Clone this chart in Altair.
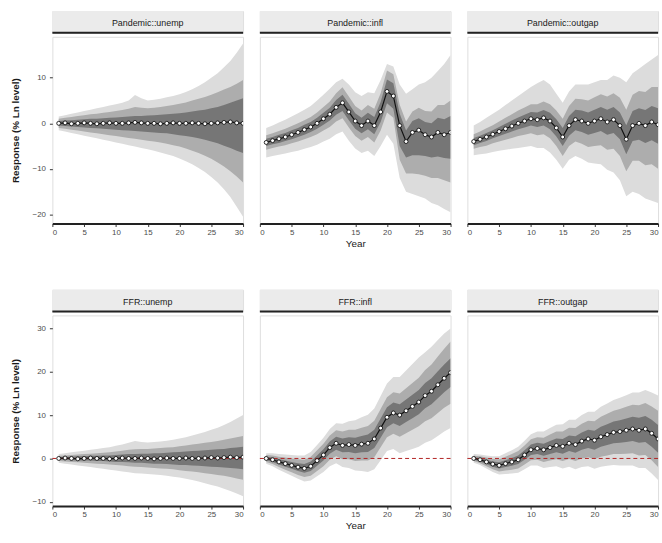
import altair as alt
import pandas as pd

# ---------------- data ----------------
horizon = list(range(1, 31))
panel_names = ["Pandemic::unemp", "Pandemic::infl", "Pandemic::outgap",
               "FFR::unemp", "FFR::infl", "FFR::outgap"]
x_ticks = [0, 5, 10, 15, 20, 25, 30]
top_y_ticks = [-20, -10, 0, 10]
bottom_y_ticks = [-10, 0, 10, 20, 30]
zero_ref = [0]

# Pandemic::unemp
pu_med = [0.0,0.1,-0.1,0.0,0.1,0.0,-0.1,0.0,0.1,0.0,0.0,0.1,0.2,0.1,0.0,0.0,-0.1,0.0,0.1,0.0,0.0,0.1,0.0,-0.1,0.0,0.1,0.2,0.3,0.1,0.0]
pu_hi1 = [0.5,0.6,0.7,0.8,0.9,1.0,1.0,1.1,1.2,1.3,1.4,1.5,1.6,1.6,1.7,1.8,1.9,2.0,2.1,2.2,2.4,2.6,2.8,3.0,3.3,3.6,4.0,4.5,5.0,5.5]
pu_lo1 = [-0.5,-0.6,-0.7,-0.8,-0.9,-1.0,-1.1,-1.2,-1.3,-1.4,-1.5,-1.6,-1.7,-1.8,-1.9,-2.0,-2.1,-2.2,-2.4,-2.6,-2.8,-3.0,-3.3,-3.6,-4.0,-4.4,-4.9,-5.4,-6.0,-6.5]
pu_hi2 = [1.0,1.2,1.4,1.6,1.8,2.0,2.1,2.3,2.5,2.7,2.9,3.2,3.6,3.4,3.3,3.4,3.6,3.8,4.0,4.3,4.6,5.0,5.4,5.8,6.3,6.8,7.4,8.0,8.7,9.5]
pu_lo2 = [-1.0,-1.2,-1.4,-1.6,-1.8,-2.0,-2.2,-2.4,-2.6,-2.8,-3.0,-3.2,-3.4,-3.6,-3.8,-4.0,-4.2,-4.5,-4.8,-5.1,-5.5,-6.0,-6.5,-7.1,-7.8,-8.6,-9.5,-10.5,-11.7,-13.0]
pu_hi3 = [1.5,1.8,2.1,2.4,2.7,3.0,3.3,3.6,3.9,4.2,4.5,5.0,6.2,5.5,5.0,5.2,5.4,5.7,6.0,6.4,6.9,7.5,8.2,9.0,10.0,11.0,12.3,13.7,15.5,17.5]
pu_lo3 = [-1.5,-1.8,-2.1,-2.4,-2.7,-3.0,-3.3,-3.6,-3.9,-4.2,-4.5,-4.8,-5.1,-5.4,-5.7,-6.0,-6.4,-6.8,-7.2,-7.7,-8.3,-9.0,-9.8,-10.7,-11.8,-13.0,-14.5,-16.2,-18.3,-20.5]

# Pandemic::infl
pi_med = [-4.2,-3.8,-3.4,-3.0,-2.5,-2.0,-1.4,-0.8,0.0,1.0,2.0,3.5,4.5,2.5,0.5,-0.5,0.5,-0.5,2.5,7.0,6.0,-0.5,-4.0,-2.0,-1.5,-2.5,-3.0,-2.0,-2.5,-2.0]
pi_hi1 = [-3.4,-3.0,-2.5,-2.1,-1.5,-1.0,-0.3,0.3,1.2,2.3,3.4,5.1,6.3,4.3,2.2,1.2,2.3,1.4,4.7,9.6,8.8,2.1,-1.6,0.5,1.1,0.3,0.0,1.2,0.9,1.6]
pi_lo1 = [-5.0,-4.6,-4.3,-3.9,-3.5,-3.0,-2.5,-1.9,-1.2,-0.3,0.6,1.9,2.7,0.7,-1.2,-2.2,-1.3,-2.4,0.3,4.4,3.2,-5.0,-7.5,-7.0,-7.0,-7.2,-7.5,-7.3,-7.6,-7.8]
pi_hi2 = [-2.6,-2.2,-1.7,-1.2,-0.6,0.0,0.7,1.4,2.4,3.6,4.8,6.6,7.9,5.9,3.8,2.8,4.0,3.2,6.6,11.6,10.8,4.1,0.4,2.6,3.4,2.7,2.6,4.0,4.0,5.0]
pi_lo2 = [-5.8,-5.4,-5.1,-4.8,-4.4,-4.0,-3.5,-3.0,-2.4,-1.6,-0.8,0.4,1.1,-0.9,-2.8,-3.8,-3.0,-4.2,-1.6,2.4,1.2,-8.0,-11.0,-11.0,-11.2,-11.5,-12.0,-12.0,-12.5,-13.0]
pi_hi3 = [-1.0,-0.5,0.2,0.8,1.5,2.2,3.0,3.8,5.0,6.3,7.6,9.0,9.8,8.5,6.8,6.0,6.8,6.6,9.5,13.0,12.5,8.5,6.5,7.5,8.5,9.0,10.0,11.5,13.0,15.0]
pi_lo3 = [-7.5,-7.2,-6.9,-6.6,-6.3,-6.0,-5.6,-5.2,-4.7,-4.0,-3.4,-2.4,-1.8,-3.8,-5.5,-6.5,-6.0,-7.2,-5.0,-2.5,-4.5,-12.0,-15.0,-15.5,-16.0,-16.5,-17.5,-18.0,-18.8,-19.5]

# Pandemic::outgap
po_med = [-4.0,-3.5,-3.0,-2.4,-1.8,-1.2,-0.6,0.0,0.5,1.0,0.8,1.2,0.5,-1.0,-3.0,-0.5,0.8,0.5,0.0,0.5,1.0,0.3,0.8,-0.5,-3.5,-0.5,0.0,-0.5,0.3,-0.3]
po_hi1 = [-3.2,-2.7,-2.1,-1.5,-0.8,-0.1,0.6,1.3,1.9,2.5,2.4,2.9,2.3,0.9,-1.0,1.6,3.0,2.8,2.4,3.0,3.6,3.0,3.6,2.4,-0.4,2.7,3.3,2.9,3.8,3.3]
po_lo1 = [-4.8,-4.3,-3.9,-3.3,-2.8,-2.3,-1.8,-1.3,-0.9,-0.5,-0.8,-0.5,-1.3,-2.9,-5.0,-2.7,-1.5,-1.9,-2.5,-2.1,-1.7,-2.5,-2.1,-3.5,-6.8,-3.9,-3.6,-4.3,-3.7,-4.5]
po_hi2 = [-2.4,-1.8,-1.1,-0.4,0.4,1.2,2.0,2.8,3.5,4.2,4.2,4.8,4.2,2.8,1.0,3.8,5.4,5.3,5.0,5.7,6.4,5.9,6.6,5.6,3.0,6.3,7.1,6.9,8.0,8.0]
po_lo2 = [-5.6,-5.2,-4.9,-4.4,-4.0,-3.6,-3.2,-2.8,-2.5,-2.2,-2.6,-2.4,-3.3,-5.0,-7.2,-5.0,-4.0,-4.5,-5.2,-5.0,-4.8,-5.8,-5.6,-7.2,-10.5,-8.2,-8.2,-9.2,-9.0,-10.0]
po_hi3 = [-0.5,0.3,1.2,2.1,3.0,4.0,5.0,6.0,7.0,8.0,8.8,9.5,8.5,6.5,4.5,7.0,8.5,8.5,8.5,9.0,9.5,9.5,10.5,10.0,9.0,11.0,12.0,13.0,14.0,15.0]
po_lo3 = [-7.0,-6.8,-6.6,-6.3,-6.0,-5.8,-5.6,-5.4,-5.2,-5.0,-5.4,-5.4,-6.4,-8.0,-10.0,-8.0,-7.2,-7.8,-8.6,-8.8,-9.0,-10.2,-10.8,-12.5,-16.0,-15.0,-15.5,-16.5,-17.0,-17.5]

# FFR::unemp
fu_med = [0.0,0.1,0.0,-0.1,0.0,0.1,0.0,0.0,-0.1,0.0,0.1,0.0,0.0,0.1,0.0,-0.1,0.0,0.1,0.0,0.0,0.1,0.0,0.0,0.1,0.2,0.1,0.2,0.3,0.2,0.3]
fu_hi1 = [0.3,0.4,0.4,0.5,0.5,0.6,0.6,0.7,0.7,0.8,0.9,1.0,1.0,1.1,1.1,1.2,1.2,1.3,1.4,1.5,1.6,1.7,1.8,1.9,2.0,2.1,2.2,2.4,2.5,2.7]
fu_lo1 = [-0.3,-0.3,-0.4,-0.5,-0.5,-0.5,-0.6,-0.6,-0.7,-0.8,-0.8,-0.9,-1.0,-1.0,-1.1,-1.2,-1.2,-1.3,-1.4,-1.5,-1.5,-1.6,-1.7,-1.8,-1.9,-2.0,-2.1,-2.2,-2.3,-2.5]
fu_hi2 = [0.6,0.7,0.8,0.9,1.0,1.1,1.2,1.3,1.4,1.6,1.8,2.0,2.1,2.2,2.2,2.3,2.4,2.5,2.6,2.8,3.0,3.2,3.4,3.6,3.8,4.0,4.3,4.6,4.9,5.2]
fu_lo2 = [-0.6,-0.7,-0.8,-0.9,-1.0,-1.1,-1.2,-1.3,-1.4,-1.5,-1.6,-1.8,-1.9,-2.0,-2.1,-2.2,-2.3,-2.4,-2.5,-2.7,-2.9,-3.0,-3.2,-3.4,-3.6,-3.8,-4.0,-4.3,-4.6,-4.9]
fu_hi3 = [1.0,1.2,1.4,1.6,1.8,2.0,2.2,2.4,2.6,2.9,3.2,3.6,4.0,3.8,3.7,3.8,3.9,4.1,4.3,4.6,4.9,5.3,5.7,6.1,6.6,7.1,7.7,8.4,9.2,10.0]
fu_lo3 = [-1.0,-1.2,-1.4,-1.6,-1.8,-2.0,-2.2,-2.4,-2.6,-2.8,-3.0,-3.2,-3.4,-3.5,-3.6,-3.7,-3.8,-4.0,-4.2,-4.4,-4.7,-5.0,-5.3,-5.7,-6.1,-6.5,-7.0,-7.5,-8.1,-8.7]

# FFR::infl
fi_med = [0.0,-0.3,-0.8,-1.2,-1.6,-2.0,-2.3,-1.8,-0.5,0.8,2.5,3.5,3.0,3.2,3.0,3.3,3.5,4.5,7.0,9.5,10.5,10.0,11.0,12.0,13.0,14.5,15.5,17.0,18.5,19.8]
fi_hi1 = [0.4,0.2,-0.2,-0.5,-0.8,-1.1,-1.3,-0.7,0.7,2.1,3.9,5.0,4.6,4.9,4.8,5.2,5.5,6.6,9.2,11.8,12.9,12.5,13.6,14.7,15.8,17.4,18.5,20.1,21.7,23.1]
fi_lo1 = [-0.4,-0.8,-1.4,-1.9,-2.4,-2.9,-3.3,-2.9,-1.7,-0.5,1.1,2.0,1.4,1.5,1.2,1.4,1.5,2.4,4.8,7.2,8.1,7.5,8.4,9.3,10.2,11.6,12.5,13.9,15.3,16.5]
fi_hi2 = [0.8,0.7,0.4,0.2,0.0,-0.2,-0.3,0.4,1.9,3.4,5.3,6.5,6.2,6.6,6.6,7.1,7.5,8.7,11.4,14.1,15.3,15.0,16.2,17.4,18.6,20.4,21.7,23.5,25.3,27.0]
fi_lo2 = [-0.8,-1.3,-2.0,-2.6,-3.2,-3.8,-4.3,-4.0,-2.9,-1.8,-0.3,0.5,-0.2,-0.2,-0.6,-0.5,-0.5,0.3,2.6,4.9,5.7,5.0,5.8,6.6,7.4,8.6,9.3,10.5,11.7,12.6]
fi_hi3 = [1.2,1.2,1.0,0.9,0.8,0.7,0.7,1.5,3.1,4.8,6.8,8.1,8.0,8.6,8.8,9.5,10.1,11.5,14.4,17.3,18.8,18.8,20.3,21.8,23.3,24.5,25.8,27.3,28.8,30.0]
fi_lo3 = [-1.2,-1.8,-2.6,-3.3,-4.0,-4.7,-5.3,-5.1,-4.1,-3.1,-1.8,-1.1,-2.0,-2.2,-2.8,-2.9,-3.1,-2.5,-0.4,1.7,2.2,1.2,1.7,2.2,2.7,3.6,4.2,5.2,6.2,7.0]

# FFR::outgap
fo_med = [0.0,-0.3,-0.8,-1.3,-1.6,-1.2,-0.8,-0.3,0.8,2.0,2.3,2.0,2.5,3.0,2.8,3.5,3.2,4.0,4.5,4.2,5.0,5.5,6.0,6.2,6.5,6.8,6.5,6.8,5.8,4.5]
fo_hi1 = [0.3,0.1,-0.3,-0.7,-0.9,-0.4,0.1,0.7,1.9,3.2,3.6,3.4,4.0,4.6,4.5,5.3,5.1,6.0,6.6,6.4,7.3,7.9,8.5,8.8,9.2,9.6,9.4,9.8,8.9,7.7]
fo_lo1 = [-0.3,-0.7,-1.3,-1.9,-2.3,-2.0,-1.7,-1.3,-0.3,0.8,1.0,0.6,1.0,1.4,1.1,1.7,1.3,2.0,2.4,2.0,2.7,3.1,3.5,3.6,3.8,4.0,3.6,3.8,2.7,1.3]
fo_hi2 = [0.6,0.5,0.2,-0.1,-0.2,0.4,1.0,1.7,3.0,4.4,4.9,4.8,5.5,6.2,6.2,7.1,7.0,8.0,8.7,8.6,9.6,10.3,11.0,11.4,11.9,12.4,12.3,12.8,12.0,11.0]
fo_lo2 = [-0.6,-1.1,-1.8,-2.5,-3.0,-2.8,-2.6,-2.3,-1.4,-0.4,-0.3,-0.8,-0.5,-0.2,-0.6,-0.1,-0.6,0.0,0.3,-0.2,0.4,0.7,1.0,1.0,1.1,1.2,0.7,0.8,-0.4,-2.0]
fo_hi3 = [1.0,0.9,0.7,0.5,0.5,1.2,1.9,2.7,4.1,5.6,6.2,6.2,7.0,7.8,7.9,8.9,8.9,10.0,10.8,10.8,11.9,12.7,13.5,14.0,14.6,15.2,15.2,15.8,15.2,14.5]
fo_lo3 = [-1.0,-1.5,-2.3,-3.1,-3.7,-3.6,-3.5,-3.3,-2.5,-1.6,-1.6,-2.2,-2.0,-1.8,-2.3,-1.9,-2.5,-2.0,-1.8,-2.4,-1.9,-1.7,-1.5,-1.6,-1.6,-1.6,-2.2,-2.2,-3.5,-5.0]

series = {
    "Pandemic::unemp": (pu_med, pu_lo1, pu_hi1, pu_lo2, pu_hi2, pu_lo3, pu_hi3),
    "Pandemic::infl": (pi_med, pi_lo1, pi_hi1, pi_lo2, pi_hi2, pi_lo3, pi_hi3),
    "Pandemic::outgap": (po_med, po_lo1, po_hi1, po_lo2, po_hi2, po_lo3, po_hi3),
    "FFR::unemp": (fu_med, fu_lo1, fu_hi1, fu_lo2, fu_hi2, fu_lo3, fu_hi3),
    "FFR::infl": (fi_med, fi_lo1, fi_hi1, fi_lo2, fi_hi2, fi_lo3, fi_hi3),
    "FFR::outgap": (fo_med, fo_lo1, fo_hi1, fo_lo2, fo_hi2, fo_lo3, fo_hi3),
}

rows = []
for name in panel_names:
    med, lo1, hi1, lo2, hi2, lo3, hi3 = series[name]
    for i, h in enumerate(horizon):
        rows.append({"panel": name, "h": h, "med": med[i],
                     "lo1": lo1[i], "hi1": hi1[i], "lo2": lo2[i], "hi2": hi2[i],
                     "lo3": lo3[i], "hi3": hi3[i]})
df = pd.DataFrame(rows)
zero_df = pd.DataFrame({"y": zero_ref})

# ---------------- layout ----------------
W = 193
SH = 22
FONT = "Liberation Sans"
Y_TITLE = "Response (% Ln level)"


def strip(name):
    d = pd.DataFrame({"label": [name]})
    base = alt.Chart(d)
    bg = base.mark_rect(color="#ebebeb").encode(
        x=alt.value(0), x2=alt.value(W), y=alt.value(0), y2=alt.value(SH))
    txt = base.mark_text(fontSize=9, color="#1a1a1a", font=FONT, baseline="middle").encode(
        x=alt.value(W / 2), y=alt.value(SH / 2 + 1), text="label:N")
    line = base.mark_rule(color="#222222", strokeWidth=2).encode(
        x=alt.value(0), x2=alt.value(W), y=alt.value(SH))
    return alt.layer(bg, txt, line).properties(width=W, height=SH)


def panel(name, ydom, yticks, height, show_y, show_xtitle, zero_line):
    base = alt.Chart(df).transform_filter(alt.datum.panel == name)
    xaxis = alt.Axis(values=x_ticks, grid=False, domainColor="#222222", domainWidth=2,
                     tickColor="#333333", tickSize=3, labelFontSize=8, labelColor="#4d4d4d",
                     labelFont=FONT, titleFont=FONT, titleFontSize=10, titleFontWeight="normal",
                     titleColor="#1a1a1a", titlePadding=2, labelPadding=2, labelOverlap=False)
    xscale = alt.Scale(domain=[0, 30], nice=False)
    xtitle = "Year" if show_xtitle else None
    x = alt.X("h:Q", scale=xscale, axis=xaxis, title=xtitle)
    yscale = alt.Scale(domain=ydom, nice=False, zero=False)
    if show_y:
        yaxis = alt.Axis(values=yticks, grid=False, domain=False, tickColor="#333333",
                         tickSize=3, labelFontSize=8, labelColor="#4d4d4d", labelFont=FONT,
                         titleFont=FONT, titleFontSize=10, titleFontWeight="bold",
                         titleColor="#1a1a1a", titlePadding=12, labelPadding=4)
        ytitle = Y_TITLE
    else:
        yaxis = None
        ytitle = None

    def yenc(field):
        return alt.Y(field, type="quantitative", scale=yscale, axis=yaxis, title=ytitle)

    light = base.mark_area(color="#dcdcdc", clip=True).encode(x=x, y=yenc("lo3"), y2="hi3:Q")
    mid = base.mark_area(color="#adadad", clip=True).encode(x=x, y=yenc("lo2"), y2="hi2:Q")
    dark = base.mark_area(color="#767676", clip=True).encode(x=x, y=yenc("lo1"), y2="hi1:Q")
    layers = [light, mid, dark]
    if zero_line:
        layers.append(alt.Chart(zero_df).mark_rule(color="#b22222", strokeDash=[4, 3],
                                                   strokeWidth=1).encode(y=yenc("y")))
    layers.append(base.mark_line(color="#111111", strokeWidth=1.2, clip=True).encode(x=x, y=yenc("med")))
    layers.append(base.mark_point(filled=True, fill="white", stroke="#111111", strokeWidth=0.9,
                                  size=16, opacity=1, clip=True).encode(x=x, y=yenc("med")))
    return alt.layer(*layers).properties(width=W, height=height)


def row(names, ydom, yticks, height, zero_line):
    cols = []
    for j, n in enumerate(names):
        p = panel(n, ydom, yticks, height, show_y=(j == 0), show_xtitle=(j == 1), zero_line=zero_line)
        cols.append(alt.vconcat(strip(n), p, spacing=1))
    return alt.hconcat(*cols, spacing=13)


top = row(panel_names[:3], [-22, 19], top_y_ticks, 189, False)
bottom = row(panel_names[3:], [-11, 33], bottom_y_ticks, 193, True)

chart = alt.vconcat(top, bottom, spacing=40).properties(
    padding={"left": 9, "top": 7, "right": 2, "bottom": 0}
).configure_view(stroke=None).configure(background="white")

chart.save("out.html", embed_options={"renderer": "svg", "actions": False})
